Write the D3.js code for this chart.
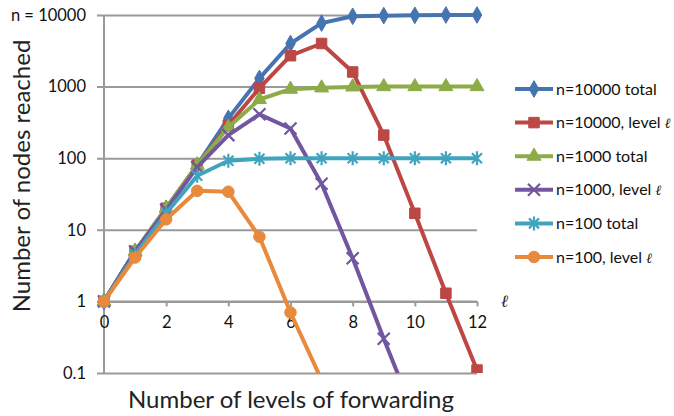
<!DOCTYPE html>
<html>
<head>
<meta charset="utf-8">
<script src="https://cdn.jsdelivr.net/npm/d3@7"></script>
<style>
  html, body { margin: 0; padding: 0; background: #fff; }
  svg { display: block; font-family: Lato, "Open Sans", sans-serif; }
</style>
</head>
<body>
<svg id="chart" width="674" height="416"></svg>
<script>
// Levels of forwarding (x) and node counts per series
const levels = [0, 1, 2, 3, 4, 5, 6, 7, 8, 9, 10, 11, 12];

const n10000Total = [1, 5, 20, 80, 360, 1300, 4000, 7700, 9600, 9800, 9900, 10000, 10000];
const n10000Level = [1, 5, 20, 80, 290, 950, 2700, 4000, 1600, 210, 17, 1.3, 0.11];
const n1000Total  = [1, 5, 20, 80, 270, 660, 920, 960, 990, 1000, 1000, 1000, 1000];
const n1000Level  = [1, 5, 19, 75, 210, 410, 260, 44, 4, 0.3, 0.025, null, null];
const n100Total   = [1, 4.5, 17, 57, 92, 98, 100, 100, 100, 100, 100, 100, 100];
const n100Level   = [1, 4.1, 14, 35, 34, 8, 0.7, 0.08, null, null, null, null, null];

const seriesNames = ["n=10000 total", "n=10000, level ℓ", "n=1000 total",
                     "n=1000, level ℓ", "n=100 total", "n=100, level ℓ"];
const seriesValues = [n10000Total, n10000Level, n1000Total, n1000Level, n100Total, n100Level];
const seriesColors = ["#4674b1", "#bc4744", "#8bac47", "#7256a0", "#40a4bf", "#e8893b"];
const seriesMarkers = ["diamond", "square", "triangle", "cross", "asterisk", "circle"];

const yTicks = [0.1, 1, 10, 100, 1000, 10000];
const yTickLabels = ["0.1", "1", "10", "100", "1000", "n = 10000"];
const xTicks = [0, 2, 4, 6, 8, 10, 12];

const svg = d3.select("#chart");
const x = d3.scaleLinear().domain([0, 12]).range([104, 477]);
const y = d3.scaleLog().domain([0.1, 10000]).range([373, 15]);
const gridColor = "#9a9a9a";

// Horizontal gridlines with value labels
const yAxis = svg.append("g")
  .attr("transform", "translate(97,0)")
  .call(d3.axisLeft(y).tickValues(yTicks)
    .tickFormat((d, i) => yTickLabels[i])
    .tickSize(-(477 - 97)).tickPadding(11));
yAxis.select(".domain").remove();
yAxis.selectAll(".tick line").attr("stroke", gridColor).attr("stroke-width", 2);
yAxis.selectAll(".tick text").attr("font-size", 16.5).attr("fill", "#111")
  .attr("font-family", "Lato, sans-serif");

// Vertical axis line
svg.append("line")
  .attr("x1", x(0)).attr("x2", x(0))
  .attr("y1", y(10000)).attr("y2", y(0.1))
  .attr("stroke", gridColor).attr("stroke-width", 2);

// Horizontal axis crossing at 1
const xAxis = svg.append("g")
  .attr("transform", `translate(0,${y(1)})`)
  .call(d3.axisBottom(x).tickValues(xTicks).tickSize(5).tickPadding(10));
xAxis.select(".domain").attr("stroke", gridColor).attr("stroke-width", 2)
  .attr("d", `M${x(0)},0H${x(12)}`);
xAxis.selectAll(".tick line").attr("stroke", gridColor).attr("stroke-width", 2);
xAxis.selectAll(".tick text").attr("font-size", 16.5).attr("fill", "#111")
  .attr("font-family", "Lato, sans-serif");

// Axis titles
svg.append("text")
  .attr("x", 291).attr("y", 408).attr("text-anchor", "middle")
  .attr("font-size", 24).attr("fill", "#222")
  .text("Number of levels of forwarding");
svg.append("text")
  .attr("transform", "translate(30,176) rotate(-90)")
  .attr("text-anchor", "middle")
  .attr("font-size", 24).attr("fill", "#222")
  .text("Number of nodes reached");
svg.append("text")
  .attr("x", 501).attr("y", 307)
  .attr("font-size", 17).attr("font-style", "italic").attr("fill", "#222")
  .attr("font-family", "'DejaVu Serif', serif")
  .text("ℓ");

// Marker shapes
function markerPath(kind) {
  switch (kind) {
    case "diamond": return d3.symbol(d3.symbolDiamond, 80)();
    case "square": return d3.symbol(d3.symbolSquare, 110)();
    case "triangle": return d3.symbol(d3.symbolTriangle, 85)();
    case "circle": return d3.symbol(d3.symbolCircle, 105)();
    case "cross": return "M-6,-6L6,6M-6,6L6,-6";
    case "asterisk": return "M-5,-5L5,5M-5,5L5,-5M0,-7V7";
  }
}
function drawMarker(g, kind, color, cx, cy) {
  const stroked = kind === "cross" || kind === "asterisk";
  g.append("path")
    .attr("d", markerPath(kind))
    .attr("transform", `translate(${cx},${cy})`)
    .attr("fill", stroked ? "none" : color)
    .attr("stroke", color)
    .attr("stroke-width", stroked ? 2.2 : 1);
}

// Plot area clip so lines stop at the 0.1 floor
svg.append("clipPath").attr("id", "plot")
  .append("rect").attr("x", 90).attr("y", 0).attr("width", 420).attr("height", y(0.1));

const line = d3.line()
  .defined(d => d.v != null)
  .x(d => x(d.l)).y(d => y(d.v));

const plot = svg.append("g").attr("clip-path", "url(#plot)");
seriesValues.forEach((vals, i) => {
  const pts = levels.map((l, j) => ({ l, v: vals[j] }));
  const g = plot.append("g");
  g.append("path").datum(pts)
    .attr("d", line).attr("fill", "none")
    .attr("stroke", seriesColors[i]).attr("stroke-width", 4)
    .attr("stroke-linejoin", "round");
  pts.filter(p => p.v != null && p.v >= 0.1)
    .forEach(p => drawMarker(g, seriesMarkers[i], seriesColors[i], x(p.l), y(p.v)));
});

// Legend; the script ℓ is set in a serif italic face
const legend = svg.append("g");
seriesNames.forEach((name, i) => {
  const ly = 89 + i * 33.6;
  legend.append("line")
    .attr("x1", 515).attr("x2", 553).attr("y1", ly).attr("y2", ly)
    .attr("stroke", seriesColors[i]).attr("stroke-width", 4);
  drawMarker(legend, seriesMarkers[i], seriesColors[i], 534, ly);
  const t = legend.append("text")
    .attr("x", 556).attr("y", ly).attr("dy", "0.35em")
    .attr("font-size", 16).attr("fill", "#111");
  const parts = name.split("ℓ");
  t.append("tspan").text(parts[0]);
  if (parts.length > 1) {
    t.append("tspan")
      .attr("font-family", "'DejaVu Serif', serif")
      .attr("font-style", "italic").attr("font-size", 14)
      .text("ℓ");
  }
});
</script>
</body>
</html>
